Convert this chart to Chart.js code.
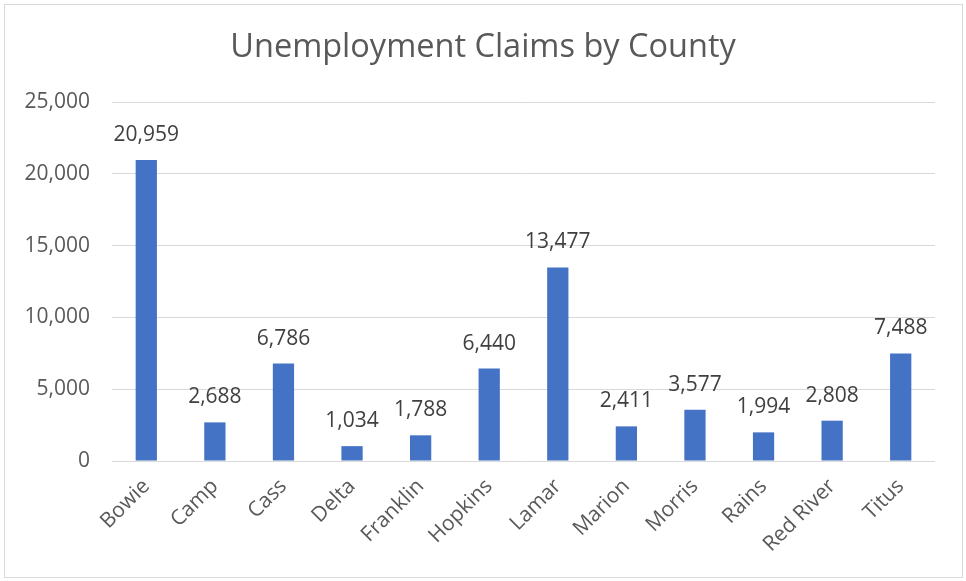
<!DOCTYPE html>
<html>
<head>
<meta charset="utf-8">
<script src="https://cdn.jsdelivr.net/npm/chart.js@4.4.1/dist/chart.umd.min.js"></script>
<style>
  html, body { margin: 0; padding: 0; background: #fff; }
  #frame { position: absolute; left: 4px; top: 4px; width: 957px; height: 572px; border: 1px solid #d9d9d9; }
  canvas { position: absolute; left: 0; top: 0; }
</style>
</head>
<body>
<div id="frame"></div>
<canvas id="claimsChart" width="966" height="581"></canvas>
<script>
// datos del gráfico
const counties = ['Bowie', 'Camp', 'Cass', 'Delta', 'Franklin', 'Hopkins', 'Lamar', 'Marion', 'Morris', 'Rains', 'Red River', 'Titus'];
const claims = [20959, 2688, 6786, 1034, 1788, 6440, 13477, 2411, 3577, 1994, 2808, 7488];
const yTicks = [0, 5000, 10000, 15000, 20000, 25000];
const chartTitle = 'Unemployment Claims by County';

const FONT = '"Open Sans", sans-serif';

// título centrado en todo el lienzo (no sobre el área del gráfico)
const centeredTitle = {
  id: 'centeredTitle',
  afterDraw(chart) {
    const ctx = chart.ctx;
    ctx.save();
    ctx.font = '32.5px ' + FONT;
    ctx.fillStyle = '#595959';
    ctx.textAlign = 'center';
    ctx.textBaseline = 'middle';
    ctx.fillText(chartTitle, chart.width / 2, 48);
    ctx.restore();
  }
};

// etiquetas encima de cada barra
const barLabels = {
  id: 'barLabels',
  afterDatasetsDraw(chart) {
    const ctx = chart.ctx;
    const meta = chart.getDatasetMeta(0);
    ctx.save();
    ctx.font = '21px ' + FONT;
    ctx.fillStyle = '#404040';
    ctx.textAlign = 'center';
    ctx.textBaseline = 'middle';
    meta.data.forEach((bar, i) => {
      ctx.fillText(claims[i].toLocaleString('en-US'), bar.x, bar.y - 25);
    });
    ctx.restore();
  }
};

new Chart(document.getElementById('claimsChart').getContext('2d'), {
  type: 'bar',
  data: {
    labels: counties,
    datasets: [{
      label: 'Claims',
      data: claims,
      backgroundColor: '#4472C4',
      barPercentage: 0.62,
      categoryPercentage: 0.5,
    }],
  },
  options: {
    responsive: false,
    animation: false,
    layout: { padding: { left: 0, right: 31, top: 102, bottom: 0 } },
    plugins: {
      legend: { display: false },
      tooltip: { enabled: false },
      title: { display: false },
    },
    scales: {
      x: {
        grid: { display: false },
        border: { display: false },
        ticks: {
          color: '#595959',
          font: { family: FONT, size: 21 },
          maxRotation: 45,
          minRotation: 45,
          padding: 5,
        },
        afterFit: scale => { scale.height = 120; },
      },
      y: {
        min: 0,
        max: 25000,
        afterBuildTicks: scale => { scale.ticks = yTicks.map(v => ({ value: v })); },
        grid: { color: '#d9d9d9', drawTicks: false },
        border: { display: false },
        ticks: {
          color: '#595959',
          font: { family: FONT, size: 21 },
          padding: 22,
          callback: v => v.toLocaleString('en-US'),
        },
        afterFit: scale => { scale.width = 112; },
      },
    },
  },
  plugins: [barLabels, centeredTitle],
});
</script>
</body>
</html>
